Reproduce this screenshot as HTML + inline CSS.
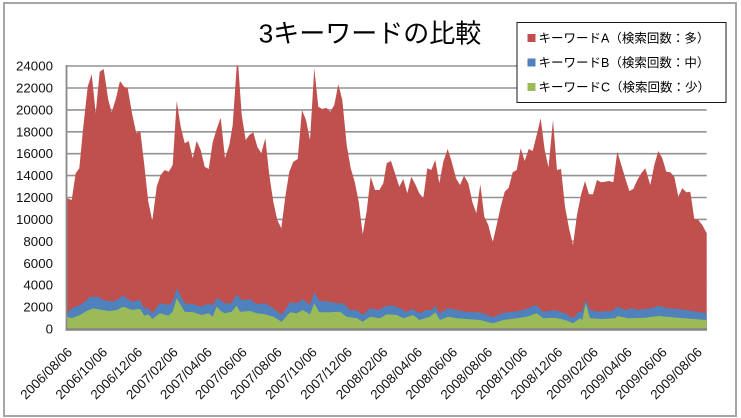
<!DOCTYPE html>
<html><head><meta charset="utf-8"><style>
html,body{margin:0;padding:0;background:#fff;}
svg{display:block;}
text{font-family:"Liberation Sans","Noto Sans CJK JP",sans-serif;}
</style></head><body>
<svg width="741" height="418" viewBox="0 0 741 418" xmlns="http://www.w3.org/2000/svg">
<rect x="0" y="0" width="741" height="418" fill="#fff"/>
<rect x="4" y="3" width="732" height="413" fill="#fff" stroke="#a6a6a6" stroke-width="2"/>
<g stroke="#939393" stroke-width="1.6">
<line x1="67" y1="66" x2="706.7" y2="66"/>
<line x1="67" y1="88" x2="706.7" y2="88"/>
<line x1="67" y1="109.9" x2="706.7" y2="109.9"/>
<line x1="67" y1="131.8" x2="706.7" y2="131.8"/>
<line x1="67" y1="153.7" x2="706.7" y2="153.7"/>
<line x1="67" y1="175.6" x2="706.7" y2="175.6"/>
<line x1="67" y1="197.5" x2="706.7" y2="197.5"/>
<line x1="67" y1="219.4" x2="706.7" y2="219.4"/>
<line x1="67" y1="241.3" x2="706.7" y2="241.3"/>
<line x1="67" y1="263.3" x2="706.7" y2="263.3"/>
<line x1="67" y1="285.2" x2="706.7" y2="285.2"/>
<line x1="67" y1="307.1" x2="706.7" y2="307.1"/>
</g>
<path fill="#C0504D" d="M67,329 L67,198.3 71.7,200 75.7,173.3 79.3,168.3 83.3,126.7 87.7,86.7 91.7,74.3 95.7,113.3 99.7,71.7 103.7,69 108.3,100 111.7,112.3 116,98.3 120,81 124,86.7 127.7,88.3 132,113.3 136.3,133.3 140.3,131 144.3,165 148.3,201.7 152.3,221 156.7,186.7 160.7,175 164.7,170 168.7,171.7 172.7,165 176.7,101 180.7,126.7 184.7,143.3 188.7,141 192.7,158.3 196.7,141 200.7,150 204.7,166.7 208.7,169 212.7,142.3 216.7,129 220.7,117.7 225,158.3 229.3,145 232.7,125 236.7,66 238.3,66 241.7,115 245.7,140 249.3,135 253.3,132.3 257.3,146.7 261.3,153.3 265.3,138.3 269.3,175 273.3,201.7 277.3,220 281.3,228.3 285.3,196.7 289.3,171.7 293.3,161.7 297.7,159 302,110 306,120 310,140 314.3,68.3 318.3,106.7 322.3,109 326.3,107.7 330.3,111.7 334.3,105 338.3,84.3 342.3,100 346.7,145 350.7,168.3 354.7,181.7 358.7,201.7 362.7,234.3 366.7,211 370.7,176.7 375,190 379.3,190 383.3,183.3 386.7,163.3 391,161 395,173.3 399.3,186.7 403.3,179 407.3,193.3 411.3,176.7 415.3,184.3 419.3,193.3 423.3,198.3 427.3,168.3 431.3,170 435.3,160 439.3,183.3 443.3,161.7 447.7,149 451.7,161.7 456,178.3 460,185 464,175.7 468.3,183.3 472.3,201.7 476.3,213.3 480.3,184.3 484.3,216.7 488.3,225 492.7,242.3 496.7,225 500.7,206.7 504.7,191.7 508.7,187.7 512.7,172.3 516.7,170 520.7,148.3 524.7,161 528.7,149 532.7,151 536.7,135 540.7,118.3 544.7,150 548.5,167.5 553,120 557,170 561,169 565,206.7 569,228.3 573,245 577,215 581,195 585,181 589,194.3 593,194.3 597,180 601,182.3 605,181.7 609,181 613.3,182.3 617.3,151.7 621.3,165 625.3,178.3 629.3,191 633.3,189 637.3,180 641.3,173.3 645.3,168.3 650.3,185 654.3,165 658.3,151 662.3,158.3 666.3,171.7 670.3,172.3 674.3,176.7 678.3,196.7 682.3,188.3 686.3,192.3 690.3,191.7 694.3,219 698.3,220 702.3,225 706.7,233.3 L706.7,329 Z"/>
<path fill="#4F81BD" d="M67,329 L67,313.3 71.7,308.3 80,305 85,301.7 90,296.7 98.3,296.7 103.3,300 113.3,301.7 123.3,295.7 131.7,301.7 140,300 144,308.3 148.3,308.3 152.3,313.3 160,303.3 168.3,305 172.7,301.7 176.7,288.3 184.7,303.3 193.3,304.3 201.7,306.7 208.7,303.3 212.7,305.7 216.7,297.7 225,303.3 231.7,303.3 236.7,294.3 241.7,300 250,299.3 256.7,304.3 265,303.3 273.3,308.3 281.7,315 290,302.3 296.7,303.3 302.7,299.3 310,305 314.3,292.3 319.3,300.7 330,301.7 336.7,303.3 343.3,303.3 350,310 356.7,310 362.7,315 370,308.3 378.3,310 386.7,305.7 393.3,305.7 400,308.3 406.7,311.7 413.3,309 419.3,313.3 426.7,310 431.7,310 435.3,305.7 439.3,313.3 448.3,308.3 456.7,310 465,311.7 471.7,312.3 480,312.3 492.7,317.3 503.3,312.7 513.3,311.7 523.3,310 536,305 543.3,311.7 555,310 565,313.3 573.3,318.3 578.3,311.7 581.7,312.3 585.7,300 590,310 598.3,311.7 611.7,311 617.7,306.7 625,310 631.7,308.3 638.3,310 645,309 651.7,308.3 658.3,305.7 666.7,308.3 678.3,309 691.7,311 706.7,313.3 L706.7,329 Z"/>
<path fill="#9BBB59" d="M67,329 L67,316.7 71.7,318.3 80,315 86.7,311 93.3,308.3 101.7,310 110,311 116.7,310 123.3,306.7 131.7,310 140,309 144.3,315.7 148.3,314.3 152.3,319 160,313.3 168.3,315.7 172.7,311.7 176.7,298.3 184.7,311.7 193.3,312.3 201.7,315 208.7,313.3 212.7,316.7 216.7,306.7 221.7,311.7 225,313.3 231.7,311.7 236.7,305.7 240,311.7 250,311 256.7,313.3 265,314.3 273.3,316.7 281.7,321.7 290,312.3 296.7,313.3 302.7,310 310,314.3 314.3,303.3 319.3,312.3 330,312.3 340,311.7 346.7,316.7 356.7,318.3 362.7,321.7 370,316.7 380,318.3 386.7,314.3 396.7,315 403.3,318.3 413.3,315 419.3,320 430,316.7 435.3,312.3 440,320 448.3,316.7 456.7,318.3 466.7,319 480,320 492.7,323.3 503.3,320 516.7,318.3 526.7,316.7 536.7,313.3 543.3,318.3 555,317.7 565,320 573.3,323.3 580,318.3 582.3,320 585.7,303.3 590,318.3 601.7,319 615,318.3 617.7,316 628.3,318.3 645,317.7 658.3,316 678.3,317.7 706.7,320 L706.7,329 Z"/>
<line x1="66.5" y1="65" x2="66.5" y2="330" stroke="#8a8a8a" stroke-width="1.8"/>
<line x1="65.5" y1="329.5" x2="707" y2="329.5" stroke="#868686" stroke-width="2.6"/>
<g font-size="13.3" fill="#111" text-anchor="end">
<text x="53" y="70.5">24000</text>
<text x="53" y="92.5">22000</text>
<text x="53" y="114.4">20000</text>
<text x="53" y="136.3">18000</text>
<text x="53" y="158.2">16000</text>
<text x="53" y="180.1">14000</text>
<text x="53" y="202">12000</text>
<text x="53" y="223.9">10000</text>
<text x="53" y="245.8">8000</text>
<text x="53" y="267.8">6000</text>
<text x="53" y="289.7">4000</text>
<text x="53" y="311.6">2000</text>
<text x="53" y="333.5">0</text>
</g>
<g font-size="13.3" fill="#111" text-anchor="end">
<text transform="translate(73,353) rotate(-45)">2006/08/06</text>
<text transform="translate(108.1,353) rotate(-45)">2006/10/06</text>
<text transform="translate(143.1,353) rotate(-45)">2006/12/06</text>
<text transform="translate(178.7,353) rotate(-45)">2007/02/06</text>
<text transform="translate(212.7,353) rotate(-45)">2007/04/06</text>
<text transform="translate(247.7,353) rotate(-45)">2007/06/06</text>
<text transform="translate(282.8,353) rotate(-45)">2007/08/06</text>
<text transform="translate(317.8,353) rotate(-45)">2007/10/06</text>
<text transform="translate(352.9,353) rotate(-45)">2007/12/06</text>
<text transform="translate(388.5,353) rotate(-45)">2008/02/06</text>
<text transform="translate(423,353) rotate(-45)">2008/04/06</text>
<text transform="translate(458.1,353) rotate(-45)">2008/06/06</text>
<text transform="translate(493.1,353) rotate(-45)">2008/08/06</text>
<text transform="translate(528.2,353) rotate(-45)">2008/10/06</text>
<text transform="translate(563.2,353) rotate(-45)">2008/12/06</text>
<text transform="translate(598.9,353) rotate(-45)">2009/02/06</text>
<text transform="translate(632.8,353) rotate(-45)">2009/04/06</text>
<text transform="translate(667.8,353) rotate(-45)">2009/06/06</text>
<text transform="translate(702.9,353) rotate(-45)">2009/08/06</text>
</g>
<text x="370" y="42.5" font-size="26" fill="#000" text-anchor="middle">3キーワードの比較</text>
<rect x="517" y="22.5" width="209" height="80" fill="#fff" stroke="#1a1a1a" stroke-width="1"/>
<rect x="527.5" y="34" width="8" height="8" fill="#C0504D"/>
<rect x="527.5" y="58.5" width="8" height="8" fill="#4F81BD"/>
<rect x="527.5" y="83" width="8" height="8" fill="#9BBB59"/>
<g font-size="12.5" fill="#000">
<text x="538.5" y="42.5">キーワードA（検索回数：多）</text>
<text x="538.5" y="67">キーワードB（検索回数：中）</text>
<text x="538.5" y="91.5">キーワードC（検索回数：少）</text>
</g>
</svg>
</body></html>
